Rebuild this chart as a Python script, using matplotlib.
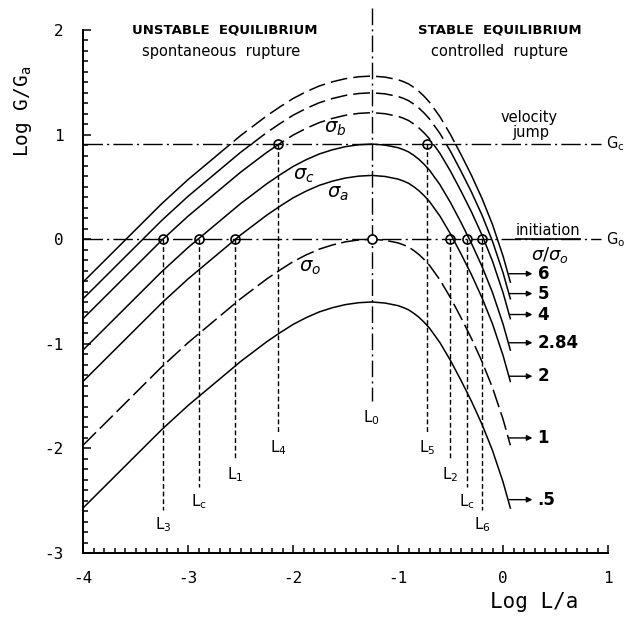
import numpy as np
import matplotlib
matplotlib.use('Agg')
import matplotlib.pyplot as plt
from matplotlib.patches import Rectangle
from matplotlib.lines import Line2D

plt.rcParams['axes.unicode_minus'] = False

# sigma0 curve shape (log L/a -> log G/Ga relative to its peak)
log_l = [-4.0, -3.75, -3.5, -3.25, -3.0, -2.75, -2.5, -2.25, -2.125, -2.0, -1.875,
         -1.75, -1.625, -1.5, -1.375, -1.25, -1.125, -1.0, -0.95, -0.9, -0.85, -0.8,
         -0.75, -0.7, -0.6, -0.5, -0.4, -0.3, -0.2, -0.1, 0.0, 0.07]
shape = [-1.97, -1.72, -1.47, -1.22, -0.99, -0.78, -0.57, -0.38, -0.295, -0.215, -0.15,
         -0.095, -0.055, -0.025, -0.007, 0.0, -0.010, -0.035, -0.053, -0.075, -0.108, -0.147,
         -0.195, -0.25, -0.39, -0.56, -0.75, -0.95, -1.17, -1.42, -1.72, -1.97]

# one curve per stress ratio, peak height read at L0
ratio_labels = ['6', '5', '4', '2.84', '2', '1', '.5']
peak_log_g = [1.56, 1.40, 1.21, 0.91, 0.61, 0.0, -0.60]
curve_kind = ['upper', 'upper', 'upper', 'solid', 'solid', 'dashed', 'solid']
arrow_y = [-0.33, -0.52, -0.72, -0.99, -1.31, -1.90, -2.49]

log_l0 = -1.25
g_c = 0.91
g_0 = 0.0

# equilibrium points and their drop lines
pt_x = [-3.235, -2.90, -2.55, -2.14, -0.72, -0.505, -0.34, -0.20]
pt_y = [0.0, 0.0, 0.0, 0.91, 0.91, 0.0, 0.0, 0.0]
drop_end = [-2.59, -2.37, -2.11, -1.85, -1.85, -2.11, -2.37, -2.59]
pt_names = ['3', 'c', '1', '4', '5', '2', 'c', '6']

sigma_names = ['b', 'c', 'a', 'o']
sigma_x = [-1.60, -1.90, -1.57, -1.84]
sigma_y = [1.06, 0.61, 0.44, -0.275]

mono = 'DejaVu Sans Mono'

fig = plt.figure(figsize=(6.27, 6.25), dpi=100)
ax = fig.add_axes([0.1324, 0.1152, 0.8373, 0.8786])
ax.set_xlim(-4, 1)
ax.set_ylim(-3, 2.25)

x = np.array(log_l)
base = np.array(shape)
below = Rectangle((-10, -10), 20, 10 + g_c, transform=ax.transData)
above = Rectangle((-10, g_c), 20, 10, transform=ax.transData)
for lab, pk, kind, ay in zip(ratio_labels, peak_log_g, curve_kind, arrow_y):
    y = base + pk
    if kind == 'upper':
        l1, = ax.plot(x, y, color='black', lw=1.1)
        l1.set_clip_path(below)
        l2, = ax.plot(x, y, color='black', lw=1.1, linestyle=(0, (11, 4)))
        l2.set_clip_path(above)
    elif kind == 'dashed':
        ax.plot(x, y, color='black', lw=1.1, linestyle=(0, (12, 3.5)))
    else:
        ax.plot(x, y, color='black', lw=1.1)
    ax.annotate('', xy=(0.28, ay), xytext=(0.06, ay),
                arrowprops=dict(arrowstyle='-|>', color='black', lw=1.0,
                                mutation_scale=8, shrinkA=0, shrinkB=0),
                annotation_clip=False)
    ax.text(0.33, ay, lab, fontsize=12, fontweight='bold', ha='left', va='center')

# reference levels
dashdot = (0, (14, 3, 1.5, 3))
ax.plot([-4, 0.93], [g_c, g_c], color='black', lw=1.0, linestyle=dashdot, clip_on=False)
ax.plot([-4, 0.93], [g_0, g_0], color='black', lw=1.0, linestyle=dashdot, clip_on=False)
ax.text(0.98, g_c, 'G$_\\mathregular{c}$', fontsize=10.5, ha='left', va='center')
ax.text(0.98, g_0, 'G$_\\mathregular{o}$', fontsize=10.5, ha='left', va='center')
ax.plot([log_l0, log_l0], [2.21, -1.55], color='black', lw=1.0, linestyle=(0, (12, 3, 1.5, 3)))
ax.plot([log_l0], [g_0], marker='o', ms=6.5, mfc='white', mec='black', mew=1.2)
ax.text(log_l0, -1.62, '$\\mathregular{L_0}$', fontsize=11, ha='center', va='top')

for px, py, pe, nm in zip(pt_x, pt_y, drop_end, pt_names):
    ax.plot([px, px], [py, pe], color='black', lw=1.0, linestyle=(0, (3.5, 2)))
    ax.plot([px], [py], marker='o', ms=6.5, mfc='none', mec='black', mew=1.2)
    ax.text(px, pe - 0.05, '$\\mathregular{L_%s}$' % nm, fontsize=11, ha='center', va='top')

for nm, sx, sy in zip(sigma_names, sigma_x, sigma_y):
    ax.text(sx, sy, '$\\sigma_%s$' % nm, fontsize=14, ha='center', va='center')

# headings and annotations
ax.text(-2.65, 2.0, 'UNSTABLE  EQUILIBRIUM', fontsize=9.5, fontweight='bold', ha='center', va='center')
ax.text(-2.68, 1.79, 'spontaneous  rupture', fontsize=10.5, ha='center', va='center')
ax.text(-0.03, 2.0, 'STABLE  EQUILIBRIUM', fontsize=9.5, fontweight='bold', ha='center', va='center')
ax.text(-0.03, 1.79, 'controlled  rupture', fontsize=10.5, ha='center', va='center')
ax.text(0.25, 1.16, 'velocity', fontsize=10.5, ha='center', va='center')
ax.text(0.26, 1.02, 'jump', fontsize=10.5, ha='center', va='center')
init = ax.text(0.43, 0.08, 'initiation', fontsize=10.5, ha='center', va='center', clip_on=False)
ax.text(0.45, -0.15, '$\\sigma/\\sigma_o$', fontsize=13, ha='center', va='center')

ax.text(-4.57, 1.22, 'Log G/G$_\\mathregular{a}$', family=mono, fontsize=14,
        rotation=90, ha='center', va='center')
ax.text(0.30, -3.47, 'Log L/a', family=mono, fontsize=15, ha='center', va='center')

# axes styling
for side in ['top', 'right']:
    ax.spines[side].set_visible(False)
ax.spines['left'].set_bounds(-3, 2)
ax.spines['left'].set_linewidth(1.4)
ax.spines['bottom'].set_linewidth(1.4)
ax.set_xticks(np.arange(-4, 1.01, 1))
ax.set_xticks(np.arange(-4, 1.01, 0.1), minor=True)
ax.set_yticks(np.arange(-3, 2.01, 1))
ax.set_yticks(np.arange(-3, 2.01, 0.1), minor=True)
ax.set_xticklabels(['-4', '-3', '-2', '-1', '0', '1'])
ax.set_yticklabels(['-3', '-2', '-1', '0', '1', '2'])
ax.tick_params(which='both', direction='in', width=1.1)
ax.tick_params(which='major', length=6)
ax.tick_params(which='minor', length=3.5)
ax.tick_params(axis='x', which='major', pad=13)
ax.tick_params(axis='y', which='major', pad=14)
for t in ax.get_xticklabels() + ax.get_yticklabels():
    t.set_family(mono)
    t.set_fontsize(11.5)

# underline "initiation"
fig.canvas.draw()
bb = init.get_window_extent()
fig.add_artist(Line2D([bb.x0, bb.x1], [bb.y0 - 1, bb.y0 - 1], transform=None,
                      color='black', lw=1.2))

fig.savefig('out.png', dpi=100)
